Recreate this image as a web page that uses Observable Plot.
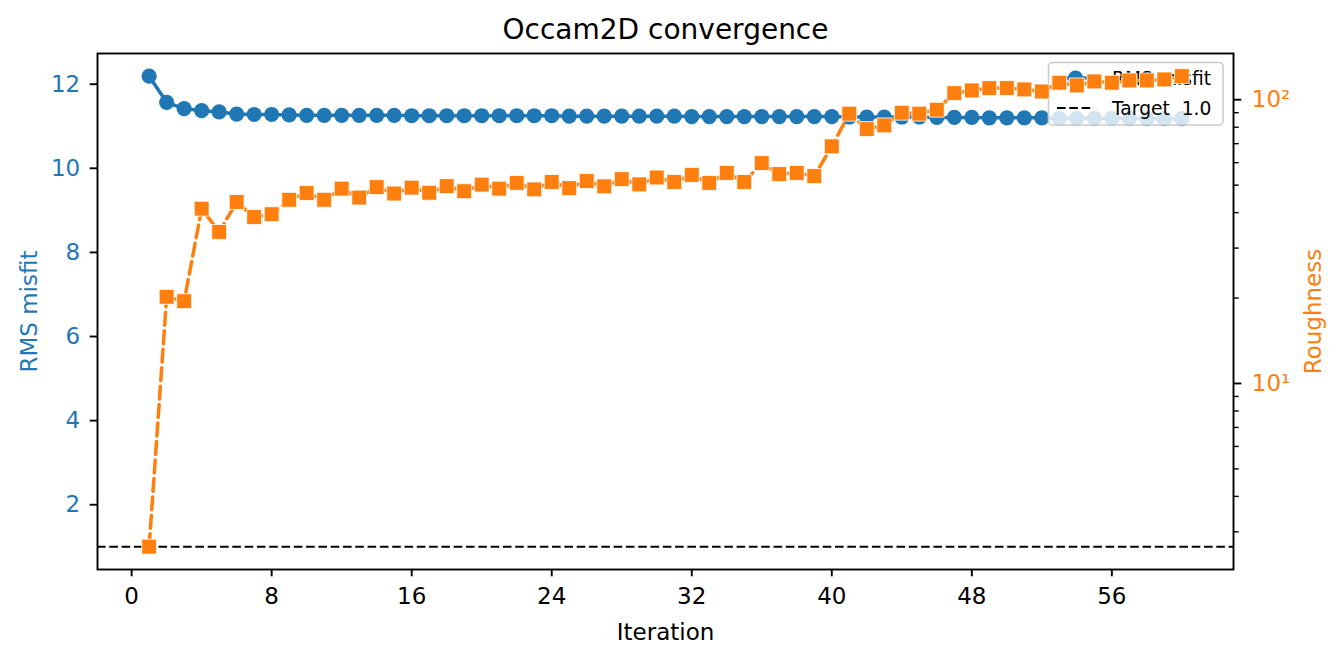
<!DOCTYPE html>
<html>
<head>
<meta charset="utf-8">
<script src="https://cdn.jsdelivr.net/npm/d3@7"></script>
<script src="https://cdn.jsdelivr.net/npm/@observablehq/plot@0.6"></script>
<style>
  html, body { margin: 0; padding: 0; background: #fff; }
  #wrap { position: relative; width: 1341px; height: 661px; font-family: "DejaVu Sans", sans-serif; }
  #wrap > .layer { position: absolute; left: 0; top: 0; }
  #top { pointer-events: none; }
</style>
</head>
<body>
<div id="wrap"></div>
<script>
// ---- data ----
const iterations = [1,2,3,4,5,6,7,8,9,10,11,12,13,14,15,16,17,18,19,20,
  21,22,23,24,25,26,27,28,29,30,31,32,33,34,35,36,37,38,39,40,
  41,42,43,44,45,46,47,48,49,50,51,52,53,54,55,56,57,58,59,60];
const rmsMisfit = [12.19, 11.57, 11.42, 11.37, 11.34, 11.29, 11.28, 11.28, 11.27, 11.26,
  11.26, 11.26, 11.26, 11.26, 11.26, 11.25, 11.25, 11.25, 11.25, 11.25,
  11.25, 11.25, 11.25, 11.25, 11.24, 11.24, 11.24, 11.24, 11.24, 11.24,
  11.24, 11.23, 11.23, 11.23, 11.23, 11.23, 11.23, 11.23, 11.23, 11.23,
  11.22, 11.22, 11.22, 11.22, 11.22, 11.21, 11.21, 11.21, 11.20, 11.20,
  11.20, 11.20, 11.19, 11.19, 11.19, 11.19, 11.19, 11.18, 11.18, 11.18];
const roughness = [2.66, 20.2, 19.5, 41.3, 34.2, 43.6, 38.6, 39.5, 44.4, 46.9,
  44.4, 48.6, 45.2, 49.2, 46.7, 49.0, 47.0, 49.6, 47.6, 50.2,
  48.6, 50.9, 48.3, 51.3, 48.8, 51.7, 49.5, 52.5, 50.3, 53.2,
  51.3, 54.3, 50.9, 55.2, 51.3, 59.8, 54.7, 55.2, 53.8, 68.5,
  89.3, 78.8, 81.2, 90.0, 89.3, 92.2, 105.5, 107.8, 109.9, 109.9,
  108.7, 106.9, 114.8, 112.3, 116.0, 114.8, 116.9, 116.9, 117.9, 121.1];
const targetRMS = 1.0;
const xTicks = [0, 8, 16, 24, 32, 40, 48, 56];
const yLeftTicks = [2, 4, 6, 8, 10, 12];
const yRightMajor = [10, 100];
const yRightMinor = [3, 4, 5, 6, 7, 8, 9, 20, 30, 40, 50, 60, 70, 80, 90];
const titleText = "Occam2D convergence";
const xLabel = "Iteration";
const yLeftLabel = "RMS misfit";
const yRightLabel = "Roughness";
const legendLabels = ["RMS misfit", "Target  1.0"];

// ---- layout / style ----
const W = 1341, H = 661;
const M = {left: 97, right: 108, top: 53, bottom: 92};
const BLUE = "#1f77b4", ORANGE = "#ff7f0e";
const FONT = "DejaVu Sans";
const FS = 23;
const xDomain = [-1.95, 62.95];

const rmsData = iterations.map((it, i) => ({it, v: rmsMisfit[i]}));
const rghData = iterations.map((it, i) => ({it, v: roughness[i]}));
const supers = {1: "¹", 2: "²"};

const common = {
  width: W, height: H,
  marginLeft: M.left, marginRight: M.right, marginTop: M.top, marginBottom: M.bottom,
  style: {fontFamily: FONT, fontSize: FS + "px", background: "transparent", overflow: "visible"}
};

// bottom layer: RMS misfit (left axis)
const p1 = Plot.plot({
  ...common,
  x: {domain: xDomain},
  y: {domain: [0.46, 12.73]},
  marks: [
    Plot.ruleY([targetRMS], {stroke: "black", strokeWidth: 2, strokeDasharray: "8.6,3.7"}),
    Plot.line(rmsData, {x: "it", y: "v", stroke: BLUE, strokeWidth: 3.5}),
    Plot.dot(rmsData, {x: "it", y: "v", r: 7.6, fill: BLUE, stroke: null}),
    Plot.frame({stroke: "black", strokeWidth: 1.9}),
    Plot.axisX(xTicks, {tickSize: 7.3, tickPadding: 11, strokeWidth: 1.9, stroke: "black", fill: "black", fontSize: FS, label: null}),
    Plot.axisY(yLeftTicks, {tickSize: 7.3, tickPadding: 10, strokeWidth: 1.9, stroke: "black", fill: BLUE, fontSize: FS, label: null}),
    Plot.text([titleText], {frameAnchor: "top", dy: -23, lineAnchor: "middle", textAnchor: "middle", fontSize: 28, fill: "black"}),
    Plot.text([xLabel], {frameAnchor: "bottom", dy: 63, lineAnchor: "middle", textAnchor: "middle", fontSize: FS, fill: "black"}),
    Plot.text([yLeftLabel], {frameAnchor: "left", dx: -68, rotate: -90, lineAnchor: "middle", textAnchor: "middle", fontSize: FS, fill: BLUE})
  ]
});
p1.classList.add("layer");

// top layer: Roughness (right log axis)
const p2 = Plot.plot({
  ...common,
  x: {domain: xDomain, axis: null},
  y: {type: "log", domain: [2.21, 145.5], axis: null},
  marks: [
    Plot.line(rghData, {x: "it", y: "v", stroke: ORANGE, strokeWidth: 3.5, strokeDasharray: "12.9,5.6"}),
    Plot.dot(rghData, {x: "it", y: "v", symbol: "square", r: 8.4, fill: ORANGE, stroke: "white", strokeWidth: 0.8}),
    Plot.axisY(yRightMinor, {anchor: "right", tickSize: 4.7, strokeWidth: 1.4, stroke: "black", tickFormat: () => "", label: null}),
    Plot.axisY(yRightMajor, {anchor: "right", tickSize: 7.3, tickPadding: 11, strokeWidth: 1.9, stroke: "black", fill: ORANGE, fontSize: FS,
      tickFormat: d => "10" + supers[Math.round(Math.log10(d))], label: null}),
    Plot.text([yRightLabel], {frameAnchor: "right", dx: 80, rotate: -90, lineAnchor: "middle", textAnchor: "middle", fontSize: FS, fill: ORANGE})
  ]
});
p2.classList.add("layer");
p2.id = "top";

// legend (between the two layers, like matplotlib's ax1 legend under ax2)
const wrap = document.getElementById("wrap");
wrap.appendChild(p1);

const leg = d3.create("svg")
  .attr("class", "layer")
  .attr("width", W).attr("height", H)
  .style("pointer-events", "none");
leg.append("rect")
  .attr("x", 1048.5).attr("y", 62.5).attr("width", 174.5).attr("height", 62.5)
  .attr("rx", 4).attr("fill", "white").attr("fill-opacity", 0.8)
  .attr("stroke", "#cccccc").attr("stroke-width", 1.6);
// entry 1: RMS misfit
leg.append("line").attr("x1", 1057).attr("x2", 1094).attr("y1", 78).attr("y2", 78)
  .attr("stroke", BLUE).attr("stroke-width", 3.5);
leg.append("circle").attr("cx", 1075.5).attr("cy", 78).attr("r", 7.6).attr("fill", BLUE);
// entry 2: target
leg.append("line").attr("x1", 1057).attr("x2", 1094).attr("y1", 108).attr("y2", 108)
  .attr("stroke", "black").attr("stroke-width", 2).attr("stroke-dasharray", "8.6,3.7");
legendLabels.forEach((t, i) => {
  leg.append("text").attr("x", 1112).attr("y", 78 + 30 * i).attr("dy", "0.35em")
    .attr("font-family", FONT).attr("font-size", 18.7).attr("fill", "black")
    .attr("xml:space", "preserve").style("white-space", "pre").text(t);
});
wrap.appendChild(leg.node());
wrap.appendChild(p2);
</script>
</body>
</html>
